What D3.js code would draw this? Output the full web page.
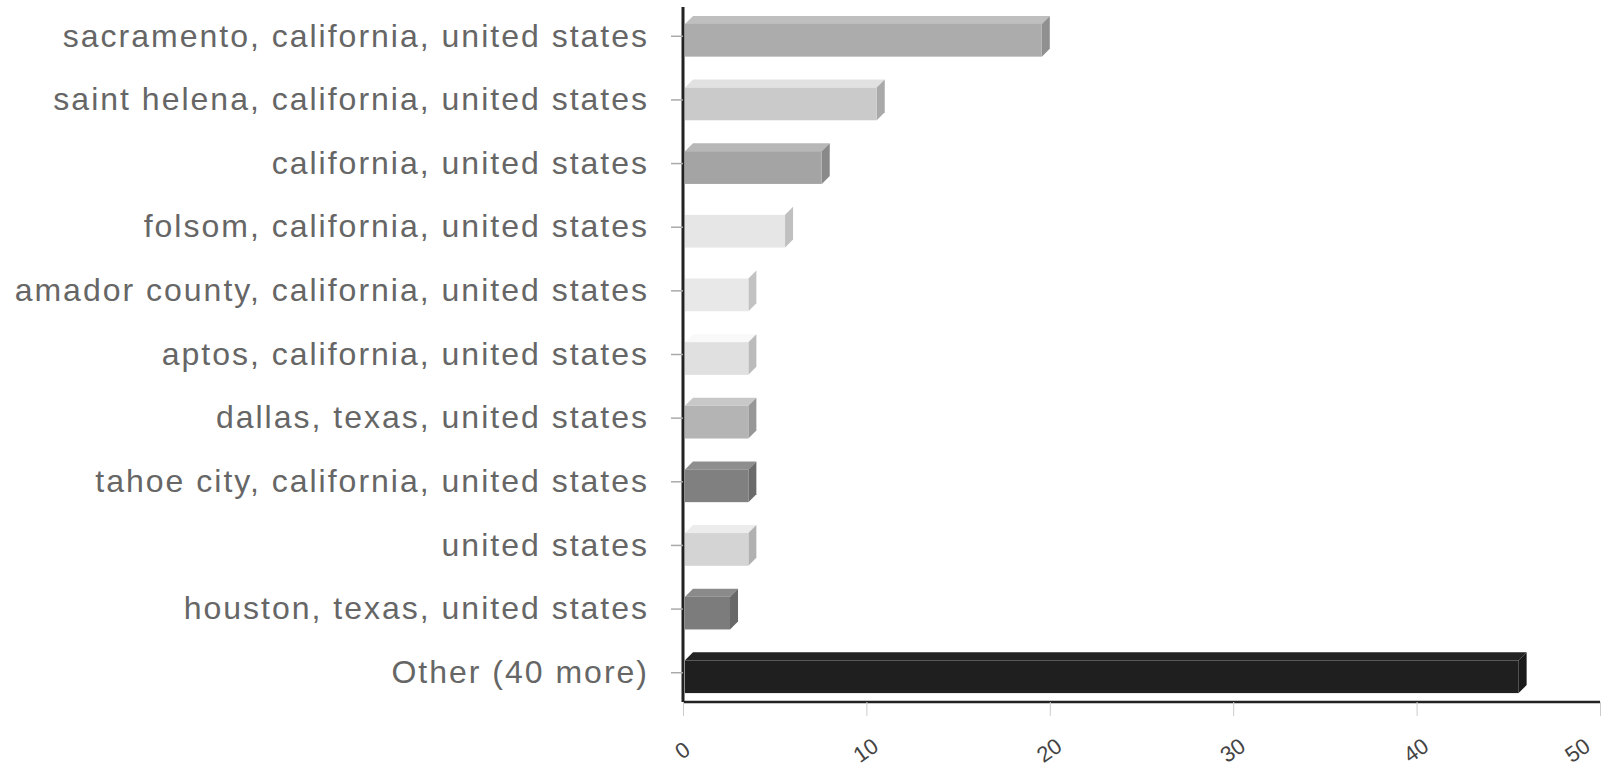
<!DOCTYPE html>
<html><head><meta charset="utf-8">
<script src="https://cdn.jsdelivr.net/npm/d3@7"></script>
<style>html,body{margin:0;padding:0;background:#fff;}svg{display:block;}</style>
</head><body>
<script>
const categories = [
  "sacramento, california, united states",
  "saint helena, california, united states",
  "california, united states",
  "folsom, california, united states",
  "amador county, california, united states",
  "aptos, california, united states",
  "dallas, texas, united states",
  "tahoe city, california, united states",
  "united states",
  "houston, texas, united states",
  "Other (40 more)"
];
const values = [20, 11, 8, 6, 4, 4, 4, 4, 4, 3, 46];
const barColors = ["#acacac","#cacaca","#a4a4a4","#e6e6e6","#e8e8e8","#e0e0e0","#b4b4b4","#808080","#d4d4d4","#7c7c7c","#1f1f1f"];
const xTicks = [0, 10, 20, 30, 40, 50];

(function () {
const W = 1604, H = 775;
const svg = d3.select("body").append("svg").attr("width", W).attr("height", H);

const mLeft = 683, mRight = 1600, mTop = 7, mBottom = 702;
const x = d3.scaleLinear().domain([0, 50]).range([mLeft, mRight]);
const y = d3.scaleBand().domain(categories).range([mTop, mBottom]).paddingInner(0.36).paddingOuter(0.14);
const depth = 8;

const g = svg.append("g");
categories.forEach((c, i) => {
  const x0 = x(0) + 2, x1 = x(values[i]) - depth;
  const y0 = y(c) + depth, h = y.bandwidth() - depth;
  const col = d3.color(barColors[i]);
  g.append("path")
    .attr("d", `M${x0},${y0} L${x0+depth},${y0-depth} L${x1+depth},${y0-depth} L${x1},${y0} Z`)
    .attr("fill", col.brighter(0.3));
  g.append("path")
    .attr("d", `M${x1},${y0} L${x1+depth},${y0-depth} L${x1+depth},${y0+h-depth} L${x1},${y0+h} Z`)
    .attr("fill", col.darker(0.5));
  g.append("rect").attr("x", x0).attr("y", y0).attr("width", x1 - x0).attr("height", h)
    .attr("fill", col);
});

const yAxis = svg.append("g").attr("transform", `translate(${mLeft},0)`)
  .call(d3.axisLeft(y).tickSize(12).tickPadding(22));
yAxis.select(".domain").attr("stroke", "#222").attr("stroke-width", 3)
  .attr("d", `M0,${mTop}V${mBottom}`);
yAxis.selectAll(".tick line").attr("stroke", "#aaa").attr("stroke-width", 1.5);
yAxis.selectAll(".tick text").attr("font-family", "Liberation Sans, Arial, sans-serif")
  .attr("font-size", 32).attr("letter-spacing", "2px").attr("fill", "#666");

const xAxis = svg.append("g").attr("transform", `translate(0,${mBottom})`)
  .call(d3.axisBottom(x).tickValues(xTicks).tickSize(14).tickPadding(26).tickFormat(d3.format("d")));
xAxis.select(".domain").attr("stroke", "#222").attr("stroke-width", 2.5).attr("d", `M${mLeft},0H${mRight}`);
xAxis.selectAll(".tick line").attr("stroke", "#ccc").attr("stroke-width", 1);
xAxis.selectAll(".tick text").attr("font-family", "Liberation Sans, Arial, sans-serif")
  .attr("font-size", 22).attr("fill", "#444")
  .attr("text-anchor", "middle")
  .attr("x", d => d === 50 ? -22 : 0)
  .attr("transform", function() {
    const yy = +d3.select(this).attr("y");
    const xx = +d3.select(this).attr("x");
    return `translate(${xx},${yy+10}) rotate(-35) translate(${-xx},${-yy-10})`;
  });
})();
</script>
</body></html>
